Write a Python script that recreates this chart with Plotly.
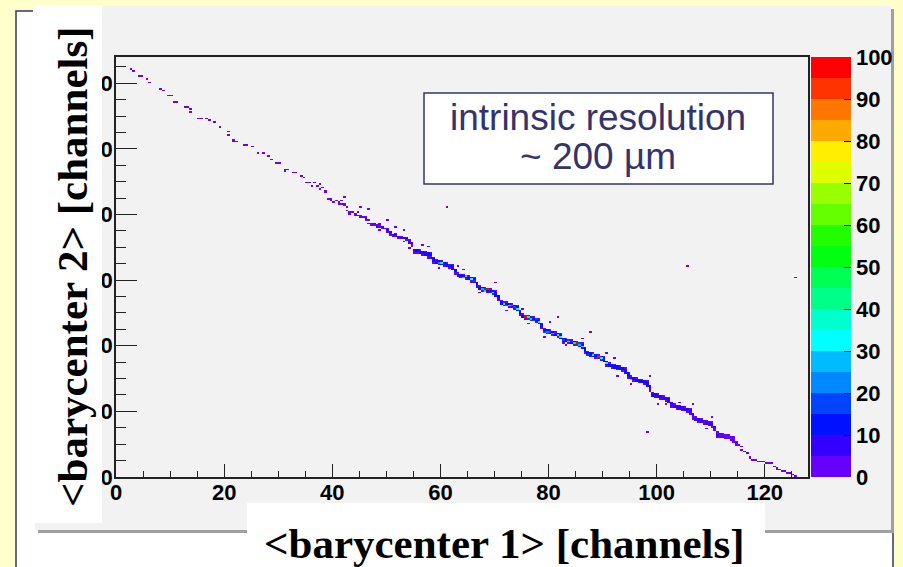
import plotly.graph_objects as go

# ---------------- data ----------------
N_BINS = 256          # 256 x 256 bins over 0..128 channels
BIN_W = 0.5

x_tick_vals = [0, 20, 40, 60, 80, 100, 120]
y_tick_vals = [0, 20, 40, 60, 80, 100, 120]
z_tick_vals = [0, 10, 20, 30, 40, 50, 60, 70, 80, 90, 100]

# ROOT palette, 20 bands from 0 (bottom) to 100 (top)
palette = ["#6600ff", "#3300ff", "#0011ff", "#0044ff", "#0088ff",
           "#00bbff", "#00ffff", "#00ffcc", "#00ff88", "#00ff55",
           "#00ff11", "#22ff00", "#66ff00", "#99ff00", "#ddff00",
           "#ffee00", "#ffaa00", "#ff7700", "#ff3300", "#ff0000"]

# sparse start of the diagonal: (x bin, y bin, counts)
head_dots = [(5, 248, 1), (6, 247, 1), (8, 244, 2), (9, 244, 1), (11, 242, 1),
             (12, 240, 1), (16, 236, 1), (17, 235, 1), (19, 232, 1), (20, 232, 2),
             (21, 228, 1), (22, 228, 1), (25, 225, 2), (26, 225, 2), (27, 224, 1),
             (27, 222, 1), (30, 218, 1), (31, 218, 1), (33, 218, 1), (34, 217, 1),
             (36, 216, 1), (38, 213, 2), (41, 210, 1), (41, 208, 1), (43, 205, 2),
             (43, 204, 1), (44, 204, 1), (47, 202, 1), (48, 202, 1), (50, 201, 1),
             (52, 197, 1), (54, 197, 1), (56, 195, 1), (57, 193, 1), (59, 191, 1),
             (60, 191, 1), (62, 187, 1), (62, 186, 2), (63, 187, 1), (65, 185, 1),
             (66, 185, 1), (68, 183, 1), (69, 182, 2)]

# dense part: "x bin, top y bin, counts going down"
ridge_columns = [
    "70 180 0,1", "71 179 1", "72 178 0,1", "73 179 1", "74 177 2", "75 178 1,0,0,1", "76 176 1", "77 174 1,1",
    "78 169 2", "79 169 1,3", "80 168 0,2", "81 168 3", "82 167 1,2", "83 168 1,0,1", "84 166 2,3", "85 164 1,0,2",
    "86 161 3,2", "87 161 2", "88 160 3,2", "89 161 1,0,4", "90 159 4,1", "91 159 0,2", "92 158 2,5,1", "93 156 3,0,2",
    "94 154 4,3", "95 154 5,2", "96 153 2,5", "97 154 1,4,2", "98 152 5,3", "99 152 0,4", "100 151 4,6,2", "101 149 5,3,1",
    "102 147 5,4", "103 148 1,7,3", "104 146 6,2", "105 146 4,6", "106 145 7,0,2", "107 145 6,3", "108 144 3,8,5", "109 142 6,4,2",
    "110 139 0,6,9,2", "111 138 11,7,4", "112 138 4,8,12", "113 137 14,6,3", "114 137 2,9,11", "115 136 12,8,2,1", "116 136 4,10,16,9", "117 133 7,13,5,3",
    "118 132 3,9,14", "119 131 12,22,3", "120 131 4,35,11", "121 130 13,9,4", "122 130 2,11,14", "123 129 16,8,2", "124 129 3,9,13,7", "125 126 12,10,4,1",
    "126 124 3,10,13", "127 123 14,9,3", "128 123 4,12,28", "129 122 45,12,4", "130 122 2,13,11", "131 121 10,34,3,1", "132 121 3,12,18,9", "133 118 14,11,6,3",
    "134 116 3,11,14", "135 115 13,25,3", "136 115 4,18,40", "137 114 97,14,4", "138 114 2,12,15", "139 113 14,38,2", "140 113 3,10,13,8", "141 110 13,12,5,3",
    "142 107 3,12,14", "143 106 15,32,3", "144 106 4,11,16", "145 105 14,30,4", "146 105 2,92,13", "147 104 12,15,2", "148 104 3,13,36,10", "149 101 15,12,8,3",
    "150 99 3,14,12", "151 98 18,98,3", "152 98 4,40,15", "153 97 14,55,4", "154 97 2,12,16", "155 96 15,13,2", "156 96 3,13,38,11", "157 93 14,12,7,3",
    "158 90 3,12,16", "159 89 14,22,3", "160 89 4,15,12", "161 88 13,45,4", "162 88 2,16,14", "163 87 12,36,2", "164 87 3,14,33,12", "165 84 13,15,9,3",
    "166 84 3,14,12", "167 83 15,31,3", "168 83 4,18,13", "169 82 13,50,4", "170 82 2,95,16", "171 81 15,28,2", "172 81 3,13,37,10", "173 78 14,12,8,3",
    "174 76 3,13,15", "175 75 12,14,3", "176 75 4,33,13", "177 74 14,12,4", "178 74 2,90,15", "179 73 14,30,2", "180 73 3,12,13,9", "181 70 13,36,6,3",
    "182 69 3,11,13", "183 68 12,10,3", "184 68 3,13,11", "185 67 10,14,3", "186 67 3,12,9", "187 66 11,12,3", "188 66 3,9,13,8", "189 63 12,10,5,1",
    "190 61 3,11,32", "191 60 12,9,3", "192 60 3,10,11", "193 59 9,12,3", "194 59 3,11,8", "195 58 8,10,3", "196 58 3,10,12,7", "197 55 9,11,6,1",
    "198 51 2,8,10", "199 50 11,7,2", "200 50 2,9,8", "201 49 7,10,2", "202 49 2,8,6", "203 48 10,7,2", "204 48 2,6,9,5", "205 45 8,7,3,1",
    "206 44 2,7,9", "207 43 8,6,3", "208 43 2,9,7", "209 42 6,8,2", "210 42 1,7,5", "211 41 8,6,1", "212 41 1,5,8,4", "213 38 7,6,3,1",
    "214 36 1,6,8", "215 35 7,5,1", "216 35 1,5,7", "217 34 8,4,1", "218 34 1,6,5", "219 33 4,7,1", "220 33 1,5,6,3", "221 30 6,4,2",
    "222 27 1,4,6,1", "223 27 0,5,3,2", "224 26 1,3,5,0", "225 26 0,4,2,1", "226 25 1,3,4,0", "227 25 0,2,3,1", "228 24 1,3,2,1", "229 22 0,2,3,1",
]

# sparse end of the diagonal
tail_dots = [(230, 19, 2), (231, 18, 1), (231, 16, 2), (232, 15, 1), (233, 14, 3),
             (234, 12, 1), (234, 11, 2), (235, 10, 1), (236, 10, 2), (237, 9, 1),
             (238, 9, 2), (239, 9, 1), (240, 8, 1), (241, 8, 2), (242, 8, 1),
             (243, 6, 1), (244, 5, 2), (244, 4, 1), (245, 4, 1), (246, 3, 1),
             (247, 3, 2), (248, 2, 1), (249, 2, 1), (250, 1, 1), (251, 0, 1)]

# isolated entries off the diagonal
stray_dots = [(122, 164, 1), (211, 128, 1), (251, 121, 1), (196, 27, 1), (163, 97, 1),
              (175, 88, 1), (100, 156, 1), (115, 140, 1), (128, 126, 1), (150, 102, 1),
              (160, 94, 2), (166, 80, 1), (184, 72, 1), (200, 44, 1), (208, 45, 1),
              (93, 163, 1), (106, 150, 1), (140, 118, 1), (185, 61, 1), (220, 36, 1),
              (84, 170, 1), (90, 164, 1), (97, 150, 1), (103, 152, 1), (108, 139, 1),
              (113, 141, 1), (119, 127, 1), (126, 128, 1), (134, 112, 1), (144, 101, 1),
              (152, 93, 1), (158, 85, 1), (172, 84, 1), (181, 75, 1), (190, 56, 1),
              (197, 61, 1), (203, 44, 1), (213, 44, 1), (218, 29, 1)]

# ---------------- build histogram ----------------
z = [[None] * N_BINS for _ in range(N_BINS)]


def add(i, j, c):
    if c > 0 and 0 <= i < N_BINS and 0 <= j < N_BINS:
        z[j][i] = (z[j][i] or 0) + c


for i, j, c in head_dots + tail_dots + stray_dots:
    add(i, j, c)
for col in ridge_columns:
    si, sj, cs = col.split()
    for k, c in enumerate(cs.split(",")):
        add(int(si), int(sj) - k, int(c))

centers = [(k + 0.5) * BIN_W for k in range(N_BINS)]

colorscale = []
for k, col in enumerate(palette):
    colorscale.append([k / len(palette), col])
    colorscale.append([(k + 1) / len(palette), col])

# ---------------- geometry (pixels) ----------------
W, H = 903, 567
PL, PR, PT, PB = 116, 808, 57, 477


def fx(px):
    return (px - PL) / (PR - PL)


def fy(py):
    return (PB - py) / (PB - PT)


NAVY = "#34346a"
TICKFONT = dict(family="Liberation Sans, Arial, sans-serif", size=22, color="black", weight="bold")
TITLEFONT = dict(family="Liberation Serif, Times New Roman, serif", size=43, color="black", weight="bold")
BOXFONT = dict(family="Liberation Sans, Arial, sans-serif", size=37, color=NAVY)

fig = go.Figure(go.Heatmap(
    x=centers, y=centers, z=z, zmin=0, zmax=100, zsmooth=False,
    colorscale=colorscale, hoverongaps=False,
    colorbar=dict(
        thickness=40, thicknessmode="pixels", len=1, lenmode="fraction",
        x=fx(811), xanchor="left", xpad=0, y=0.5, yanchor="middle", ypad=0,
        outlinewidth=0, ticks="inside", ticklen=7, tickwidth=1, tickcolor="black",
        tickvals=z_tick_vals, tickfont=TICKFONT,
    ),
))


def rect(x0, y0, x1, y1, fill, line=None, lw=0, layer="below"):
    return dict(type="rect", xref="paper", yref="paper",
                x0=fx(x0), x1=fx(x1), y0=fy(y0), y1=fy(y1),
                fillcolor=fill, line=dict(color=line or fill, width=lw), layer=layer)


shapes = [
    rect(16, 11, 893, 600, "white", NAVY, 1.5),           # panel
    rect(38, 9, 894, 533, "#a0a0a0"),                      # canvas shadow
    rect(35, 6, 891, 530, "#f2f2f2"),                      # canvas
    rect(33, 5, 102, 523, "white", layer="above"),         # y title box
    rect(247, 503, 765, 600, "white", layer="above"),      # x title box
    rect(424, 93, 773, 184, "white", NAVY, 1.5, layer="above"),  # text box
]

annotations = [
    dict(text="&lt;barycenter 2&gt; [channels]", xref="paper", yref="paper",
         x=fx(72), y=fy(267), textangle=-90, showarrow=False,
         xanchor="center", yanchor="middle", font=TITLEFONT),
    dict(text="&lt;barycenter 1&gt; [channels]", xref="paper", yref="paper",
         x=fx(505), y=fy(543), showarrow=False,
         xanchor="center", yanchor="middle", font=TITLEFONT),
    dict(text="intrinsic resolution", xref="paper", yref="paper",
         x=fx(598), y=fy(117), showarrow=False, xanchor="center", yanchor="middle",
         font=BOXFONT),
    dict(text="~ 200 µm", xref="paper", yref="paper",
         x=fx(598), y=fy(156), showarrow=False, xanchor="center", yanchor="middle",
         font=BOXFONT),
]

axis_common = dict(range=[0, 128], showgrid=False, zeroline=False,
                   showline=True, linecolor="#222222", linewidth=1.5, mirror=True,
                   ticks="inside", tickcolor="#222222", tickwidth=1.2,
                   tickfont=TICKFONT, automargin=False)

fig.update_layout(
    width=W, height=H, autosize=False,
    margin=dict(l=PL, r=W - PR, t=PT, b=H - PB, pad=0, autoexpand=False),
    paper_bgcolor="#ffffcc", plot_bgcolor="rgba(0,0,0,0)",
    shapes=shapes, annotations=annotations,
    xaxis=dict(axis_common, tickvals=x_tick_vals, ticklen=13, ticklabelstandoff=-5,
               minor=dict(dtick=5, tick0=0, ticks="inside", ticklen=6, tickcolor="#222222")),
    yaxis=dict(axis_common, tickvals=y_tick_vals, ticklen=21, ticklabelstandoff=-3,
               minor=dict(dtick=5, tick0=0, ticks="inside", ticklen=10, tickcolor="#222222")),
    showlegend=False,
)

fig.write_html("out.html", config={"displayModeBar": False},
               post_script="document.body.style.margin='0';document.body.style.overflow='hidden';")
